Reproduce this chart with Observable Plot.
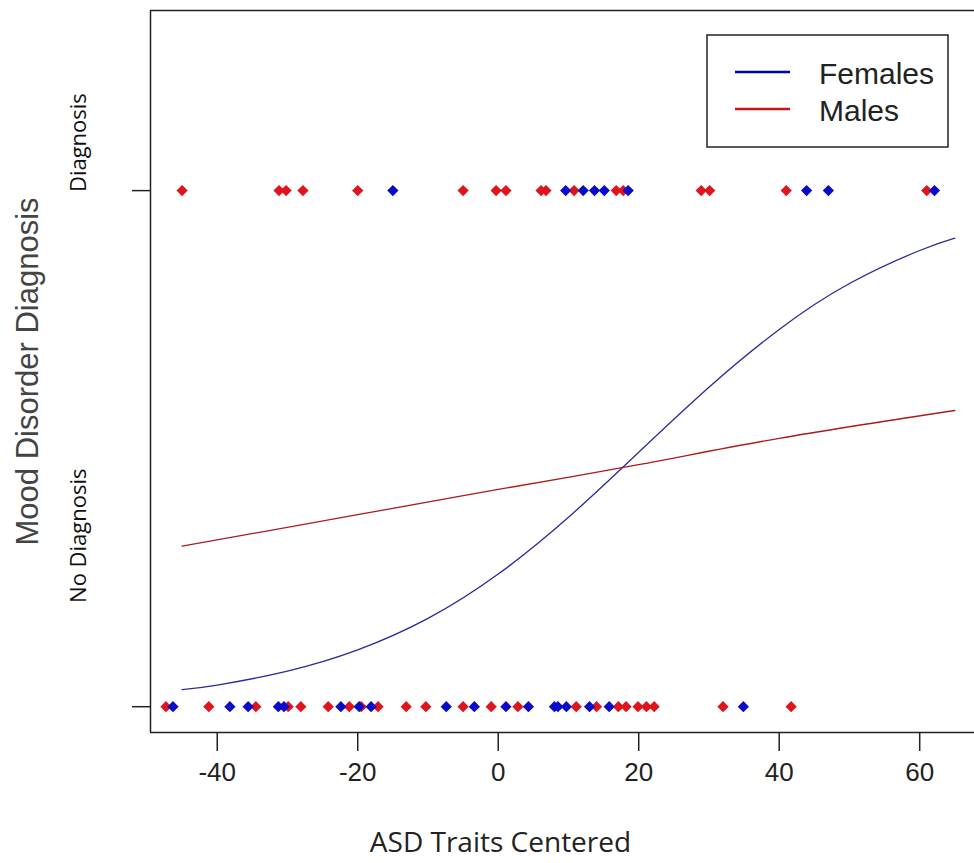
<!DOCTYPE html>
<html><head><meta charset="utf-8">
<script src="https://cdn.jsdelivr.net/npm/d3@7"></script>
<script src="https://cdn.jsdelivr.net/npm/@observablehq/plot@0.6"></script>
<style>body{margin:0;background:#fff;} #chart{width:974px;height:863px;}</style>
</head><body><div id="chart"></div>
<script>
// ---- data ----
const seriesNames = ["Females", "Males"];
const xTicks = [-40, -20, 0, 20, 40, 60];
const yTickValues = [0, 1];
const yTickLabels = ["No Diagnosis", "Diagnosis"];
const xTitle = "ASD Traits Centered";
const yTitle = "Mood Disorder Diagnosis";

// fitted probability curves
const femaleCurveX = [-45, -40, -30, -20, -10, 0, 10, 20, 30, 40, 50, 60, 65];
const femaleCurveP = [0.033, 0.042, 0.069, 0.110, 0.171, 0.257, 0.367, 0.493, 0.619, 0.731, 0.820, 0.884, 0.908];
const maleCurveX = [-45, -20, 0, 20, 40, 65];
const maleCurveP = [0.311, 0.372, 0.421, 0.469, 0.520, 0.574];

// observed cases
const femalesDiagnosis = [-15, 9.6, 12.1, 13.7, 15.1, 18.5, 43.9, 47, 62.1];
const malesDiagnosis = [-45, -31.2, -30.2, -27.8, -20, -5, -0.3, 1.1, 6.1, 6.8, 10.8, 16.8, 17.8, 28.9, 30.1, 41, 61];
const femalesNoDiagnosis = [-46.3, -38.2, -35.6, -31.3, -30.5, -22.4, -19.8, -18.1, -7.4, -3.4, 1.1, 4.3, 8, 8.5, 9.7, 13, 15.8, 34.9];
const malesNoDiagnosis = [-47.3, -41.2, -34.5, -29.9, -28.1, -24.2, -21.2, -19.5, -17.1, -13.1, -10.3, -5, -1, 2.8, 11.1, 14, 17.1, 18.2, 19.9, 21.1, 22.2, 32, 41.7];

// ---- styles ----
const pointColor = {Females: "#0a0ac8", Males: "#e0141c"};
const curveColor = {Females: "#2a2a9a", Males: "#aa1c1c"};
const legendColor = {Females: "#0000b4", Males: "#c81414"};
const W = 974, H = 863;
const xDomain = [-49.5, 67.8];
const yDomain = [-0.05, 1.349];

const curves = [
  ...femaleCurveX.map((x, i) => ({sex: "Females", x, p: femaleCurveP[i]})),
  ...maleCurveX.map((x, i) => ({sex: "Males", x, p: maleCurveP[i]}))
];
const points = [
  ...malesNoDiagnosis.map(x => ({sex: "Males", x, y: 0})),
  ...femalesNoDiagnosis.map(x => ({sex: "Females", x, y: 0})),
  ...malesDiagnosis.map(x => ({sex: "Males", x, y: 1})),
  ...femalesDiagnosis.map(x => ({sex: "Females", x, y: 1}))
];

const frameStroke = "#222";
const plot = Plot.plot({
  width: W, height: H,
  marginLeft: 150, marginRight: 0, marginTop: 10, marginBottom: 131,
  x: {domain: xDomain},
  y: {domain: yDomain},
  style: {fontFamily: "'Liberation Sans', Arial, sans-serif", background: "#fff", color: "#222"},
  marks: [
    Plot.axisX({ticks: xTicks, tickSize: 19, tickPadding: 11, fontSize: 26, label: null,
      tickFormat: d => (d < 0 ? "-" + Math.abs(d) : String(d)), strokeWidth: 1.5}),
    Plot.axisY({ticks: yTickValues, tickSize: 18, tickFormat: () => "", label: null, strokeWidth: 1.5}),
    Plot.ruleX([xDomain[0]], {stroke: frameStroke, strokeWidth: 1.5}),
    Plot.ruleY([yDomain[0], yDomain[1]], {stroke: frameStroke, strokeWidth: 1.5}),
    Plot.line(curves, {x: "x", y: "p", z: "sex", stroke: d => curveColor[d.sex], strokeWidth: 1.3, curve: "natural"}),
    Plot.dot(points, {x: "x", y: "y", fill: d => pointColor[d.sex], r: 4.5, symbol: "square", rotate: 45}),
    Plot.text([yTickLabels[1]], {x: () => xDomain[0], y: () => yTickValues[1], text: d => d, rotate: -90,
      textAnchor: "middle", dx: -72, dy: -48, fontSize: 22, fontFamily: "'Open Sans', sans-serif", fill: "#111"}),
    Plot.text([yTickLabels[0]], {x: () => xDomain[0], y: () => yTickValues[0], text: d => d, rotate: -90,
      textAnchor: "middle", dx: -72, dy: -171, fontSize: 22, fontFamily: "'Open Sans', sans-serif", fill: "#111"}),
    Plot.text([xTitle], {frameAnchor: "bottom", dx: -62, dy: 111, lineAnchor: "middle", fontSize: 28,
      fontFamily: "'Open Sans', sans-serif", fill: "#222"}),
    Plot.text([yTitle], {frameAnchor: "left", textAnchor: "middle", dx: -122, rotate: -90, fontSize: 31, fill: "#444"})
  ]
});
document.getElementById("chart").appendChild(plot);

// legend inside the plotting region (top-right)
const svg = d3.select(plot);
const lg = svg.append("g");
lg.append("rect").attr("x", 707).attr("y", 35).attr("width", 241).attr("height", 112)
  .attr("fill", "#fff").attr("stroke", "#222").attr("stroke-width", 1.5);
seriesNames.forEach((name, i) => {
  const cy = 72 + i * 37;
  lg.append("line").attr("x1", 735).attr("x2", 790).attr("y1", cy).attr("y2", cy)
    .attr("stroke", legendColor[name]).attr("stroke-width", 2.5);
  lg.append("text").attr("x", 819).attr("y", cy + 12).attr("text-anchor", "start").text(name)
    .attr("font-family", "'Liberation Sans', Arial, sans-serif").attr("font-size", 30).attr("fill", "#222");
});
</script>
</body></html>
